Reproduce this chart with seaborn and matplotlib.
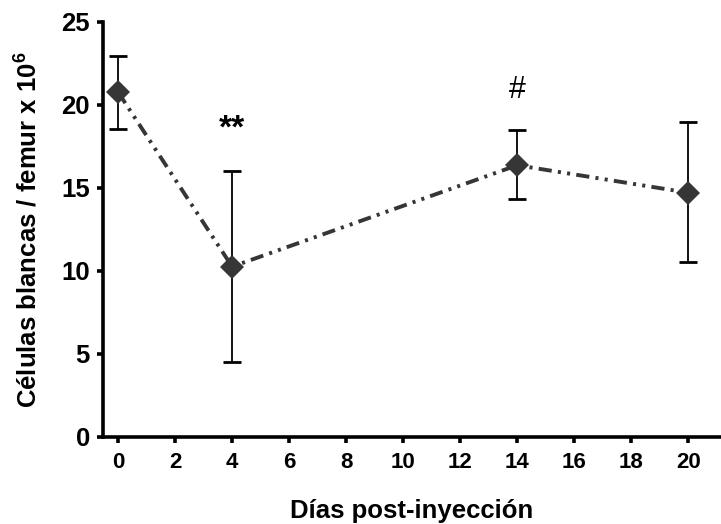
import matplotlib
matplotlib.use("Agg")
import matplotlib.pyplot as plt
import seaborn as sns
import pandas as pd

# Data
dias = [0, 4, 14, 20]
celulas = [20.75, 10.25, 16.35, 14.7]
err_low = [18.55, 4.5, 14.3, 10.5]
err_high = [22.95, 16.0, 18.45, 18.95]
annot_text = ["**", "#"]
annot_x = [4, 14]
annot_y = [18.5, 20.9]
x_ticks = [0, 2, 4, 6, 8, 10, 12, 14, 16, 18, 20]
y_ticks = [0, 5, 10, 15, 20, 25]
xlabel = "Días post-inyección"
ylabel = r"Células blancas / femur x 10$^{\mathrm{6}}$"

sns.set_theme(style="ticks")
plt.rcParams["font.family"] = ["Liberation Sans", "DejaVu Sans"]
plt.rcParams["mathtext.fontset"] = "custom"
plt.rcParams["mathtext.rm"] = "Liberation Sans:bold"
plt.rcParams["mathtext.it"] = "Liberation Sans:bold"
plt.rcParams["mathtext.bf"] = "Liberation Sans:bold"
plt.rcParams["lines.scale_dashes"] = False
for k in ["text.color", "axes.labelcolor", "xtick.color", "ytick.color", "axes.edgecolor"]:
    plt.rcParams[k] = "black"

df = pd.DataFrame({"dias": dias, "celulas": celulas})

fig = plt.figure(figsize=(7.21, 5.24), dpi=100)
W, H = 721, 524
left, right, top, bottom = 103, 721, 21.5, 437
ax = fig.add_axes([left / W, (H - bottom) / H, (right - left) / W, (bottom - top) / H])

gray = "#363636"
yerr = [[c - l for c, l in zip(celulas, err_low)], [h - c for c, h in zip(celulas, err_high)]]
ax.errorbar(dias, celulas, yerr=yerr, fmt="none", ecolor="black", elinewidth=1.3,
            capsize=6.8, capthick=2.0, zorder=2)

sns.lineplot(data=df, x="dias", y="celulas", ax=ax, color=gray, linewidth=2.8,
             linestyle=(0, (9.5, 4.5, 2.2, 4.5, 2.2, 4.5)), marker="D", markersize=12.5,
             markeredgewidth=0, markerfacecolor=gray, zorder=3)

for t, x, y in zip(annot_text, annot_x, annot_y):
    if t == "**":
        ax.text(x, y, t, ha="center", va="center", fontsize=24, fontweight="bold", color="black")
    else:
        ax.text(x, y, t, ha="center", va="center", fontsize=22, color="black")

ax.set_xlim(-0.53, 21.15)
ax.set_ylim(0, 25)
ax.set_xticks(x_ticks)
ax.set_yticks(y_ticks)
ax.set_xticklabels([str(v) for v in x_ticks], fontsize=16, fontweight="bold")
ax.set_yticklabels([str(v) for v in y_ticks], fontsize=18.5, fontweight="bold")
ax.set_xlabel(xlabel, fontsize=18.5, fontweight="bold", labelpad=19)
ax.set_ylabel(ylabel, fontsize=18.5, fontweight="bold", labelpad=14)

for s in ["top", "right"]:
    ax.spines[s].set_visible(False)
for s in ["left", "bottom"]:
    ax.spines[s].set_linewidth(2.6)
    ax.spines[s].set_color("black")
ax.tick_params(axis="both", width=2.6, length=4.5, color="black", pad=5)
ax.tick_params(axis="x", pad=6)
ax.grid(False)
ax.set_facecolor("white")
fig.patch.set_facecolor("white")

fig.savefig("out.png", dpi=100)
